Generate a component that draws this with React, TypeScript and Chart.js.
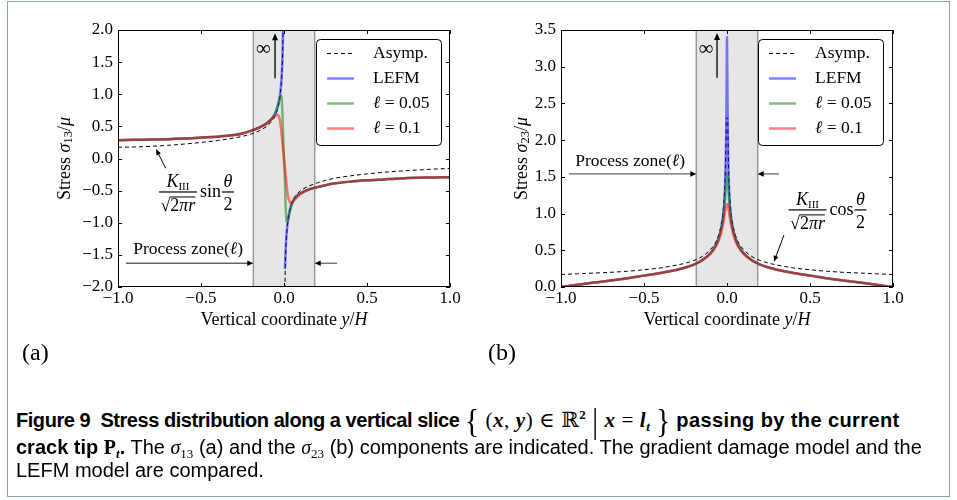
import React, { useEffect, useRef } from 'react';
import { Chart, registerables } from 'chart.js';

Chart.register(...registerables);

const SERIF = '"Liberation Serif", "DejaVu Serif", serif';
const SANS = '"Liberation Sans", Arial, sans-serif';

// ---------- Panel (a): sigma_13 ----------
const coordAsympA = [-1, -0.9, -0.8, -0.7, -0.6, -0.5, -0.4, -0.3, -0.25, -0.2, -0.15, -0.1, -0.07, -0.05, -0.035, -0.025, -0.018, -0.012, -0.008, -0.006, -0.0045, 0, 0.0045, 0.006, 0.008, 0.012, 0.018, 0.025, 0.035, 0.05, 0.07, 0.1, 0.15, 0.2, 0.25, 0.3, 0.4, 0.5, 0.6, 0.7, 0.8, 0.9, 1];
const sigma13Asymp = [0.175, 0.18, 0.19, 0.205, 0.225, 0.25, 0.28, 0.32, 0.345, 0.38, 0.43, 0.51, 0.59, 0.68, 0.8, 0.95, 1.12, 1.37, 1.68, 1.95, 2.25, null, -2.25, -1.95, -1.68, -1.37, -1.12, -0.95, -0.8, -0.67, -0.58, -0.5, -0.43, -0.38, -0.34, -0.31, -0.27, -0.24, -0.215, -0.195, -0.18, -0.165, -0.155];

const coordLefmA = [-1, -0.9, -0.8, -0.7, -0.6, -0.5, -0.4, -0.3, -0.25, -0.2, -0.15, -0.1, -0.07, -0.05, -0.035, -0.025, -0.018, -0.012, -0.008, -0.006, -0.0045, 0, 0.006, 0.008, 0.012, 0.018, 0.025, 0.035, 0.05, 0.07, 0.1, 0.15, 0.2, 0.25, 0.3, 0.4, 0.5, 0.6, 0.7, 0.8, 0.9, 1];
const sigma13Lefm = [0.285, 0.29, 0.295, 0.3, 0.31, 0.325, 0.34, 0.365, 0.39, 0.43, 0.48, 0.555, 0.63, 0.72, 0.84, 0.97, 1.13, 1.38, 1.68, 1.95, 2.25, null, -1.72, -1.55, -1.3, -1.1, -0.95, -0.8, -0.68, -0.6, -0.54, -0.48, -0.445, -0.415, -0.39, -0.36, -0.34, -0.325, -0.31, -0.3, -0.295, -0.29];

const coordL005A = [-1, -0.9, -0.8, -0.7, -0.6, -0.5, -0.4, -0.3, -0.25, -0.2, -0.15, -0.1, -0.07, -0.05, -0.035, -0.025, -0.019, -0.015, -0.012, -0.009, -0.006, -0.003, 0, 0.003, 0.006, 0.009, 0.012, 0.015, 0.019, 0.025, 0.035, 0.05, 0.07, 0.1, 0.15, 0.2, 0.25, 0.3, 0.4, 0.5, 0.6, 0.7, 0.8, 0.9, 1];
const sigma13L005 = [0.285, 0.29, 0.295, 0.3, 0.31, 0.325, 0.34, 0.365, 0.39, 0.43, 0.48, 0.555, 0.63, 0.72, 0.84, 0.94, 0.98, 0.96, 0.86, 0.66, 0.42, 0.2, 0, -0.2, -0.42, -0.66, -0.86, -0.96, -0.98, -0.94, -0.83, -0.69, -0.6, -0.54, -0.48, -0.445, -0.415, -0.39, -0.36, -0.34, -0.325, -0.31, -0.3, -0.295, -0.29];

const coordL01A = [-1, -0.9, -0.8, -0.7, -0.6, -0.5, -0.4, -0.3, -0.25, -0.2, -0.15, -0.1, -0.08, -0.065, -0.05, -0.04, -0.032, -0.025, -0.018, -0.01, 0, 0.01, 0.018, 0.025, 0.032, 0.04, 0.05, 0.065, 0.08, 0.1, 0.15, 0.2, 0.25, 0.3, 0.4, 0.5, 0.6, 0.7, 0.8, 0.9, 1];
const sigma13L01 = [0.285, 0.29, 0.295, 0.3, 0.31, 0.325, 0.34, 0.365, 0.39, 0.43, 0.48, 0.55, 0.6, 0.64, 0.67, 0.68, 0.66, 0.6, 0.47, 0.26, 0, -0.26, -0.47, -0.6, -0.66, -0.69, -0.68, -0.64, -0.6, -0.55, -0.485, -0.445, -0.415, -0.39, -0.36, -0.34, -0.325, -0.31, -0.3, -0.295, -0.29];

// ---------- Panel (b): sigma_23 ----------
const coordAsympB = [-1, -0.9, -0.8, -0.7, -0.6, -0.5, -0.4, -0.3, -0.25, -0.2, -0.15, -0.1, -0.07, -0.05, -0.035, -0.025, -0.018, -0.012, -0.008, -0.006, -0.0045, 0.0045, 0.006, 0.008, 0.012, 0.018, 0.025, 0.035, 0.05, 0.07, 0.1, 0.15, 0.2, 0.25, 0.3, 0.4, 0.5, 0.6, 0.7, 0.8, 0.9, 1];
const sigma23Asymp = [0.17, 0.18, 0.19, 0.2, 0.215, 0.235, 0.26, 0.3, 0.325, 0.36, 0.415, 0.51, 0.6, 0.71, 0.85, 1.0, 1.18, 1.45, 1.78, 2.05, 2.3, 2.3, 2.05, 1.78, 1.45, 1.18, 1.0, 0.85, 0.71, 0.6, 0.51, 0.415, 0.36, 0.325, 0.3, 0.26, 0.235, 0.215, 0.2, 0.19, 0.18, 0.17];

const coordLefmB = [-1, -0.9, -0.8, -0.7, -0.6, -0.5, -0.4, -0.3, -0.25, -0.2, -0.15, -0.1, -0.07, -0.05, -0.035, -0.025, -0.018, -0.012, -0.008, -0.005, -0.003, -0.0015, 0, 0.0015, 0.003, 0.005, 0.008, 0.012, 0.018, 0.025, 0.035, 0.05, 0.07, 0.1, 0.15, 0.2, 0.25, 0.3, 0.4, 0.5, 0.6, 0.7, 0.8, 0.9, 1];
const sigma23Lefm = [0, 0.03, 0.06, 0.09, 0.12, 0.155, 0.19, 0.235, 0.265, 0.305, 0.365, 0.46, 0.56, 0.67, 0.8, 0.94, 1.1, 1.35, 1.65, 2.05, 2.55, 3.0, 3.4, 3.0, 2.55, 2.05, 1.65, 1.35, 1.1, 0.94, 0.8, 0.67, 0.56, 0.46, 0.365, 0.305, 0.265, 0.235, 0.19, 0.155, 0.12, 0.09, 0.06, 0.03, 0];

const coordL005B = [-1, -0.9, -0.8, -0.7, -0.6, -0.5, -0.4, -0.3, -0.25, -0.2, -0.15, -0.1, -0.07, -0.05, -0.035, -0.025, -0.018, -0.012, -0.008, -0.004, 0, 0.004, 0.008, 0.012, 0.018, 0.025, 0.035, 0.05, 0.07, 0.1, 0.15, 0.2, 0.25, 0.3, 0.4, 0.5, 0.6, 0.7, 0.8, 0.9, 1];
const sigma23L005 = [0, 0.03, 0.06, 0.09, 0.12, 0.155, 0.19, 0.235, 0.265, 0.305, 0.365, 0.46, 0.56, 0.67, 0.79, 0.91, 1.04, 1.2, 1.33, 1.48, 1.55, 1.48, 1.33, 1.2, 1.04, 0.91, 0.79, 0.67, 0.56, 0.46, 0.365, 0.305, 0.265, 0.235, 0.19, 0.155, 0.12, 0.09, 0.06, 0.03, 0];

const coordL01B = [-1, -0.9, -0.8, -0.7, -0.6, -0.5, -0.4, -0.3, -0.25, -0.2, -0.15, -0.1, -0.07, -0.05, -0.035, -0.025, -0.018, -0.012, -0.007, -0.003, 0, 0.003, 0.007, 0.012, 0.018, 0.025, 0.035, 0.05, 0.07, 0.1, 0.15, 0.2, 0.25, 0.3, 0.4, 0.5, 0.6, 0.7, 0.8, 0.9, 1];
const sigma23L01 = [0, 0.03, 0.06, 0.09, 0.12, 0.155, 0.19, 0.235, 0.265, 0.305, 0.36, 0.45, 0.54, 0.63, 0.74, 0.84, 0.93, 1.02, 1.08, 1.12, 1.13, 1.12, 1.08, 1.02, 0.93, 0.84, 0.74, 0.63, 0.54, 0.45, 0.36, 0.305, 0.265, 0.235, 0.19, 0.155, 0.12, 0.09, 0.06, 0.03, 0];

// ---------- ticks & labels ----------
const xTicks = [-1, -0.5, 0, 0.5, 1];
const yTicksA = [-2, -1.5, -1, -0.5, 0, 0.5, 1, 1.5, 2];
const yTicksB = [0, 0.5, 1, 1.5, 2, 2.5, 3, 3.5];
const seriesLabels = ['Asymp.', 'LEFM', 'ℓ = 0.05', 'ℓ = 0.1'];
const processZone = [-0.185, 0.185];

const F = (s: number, style = '') => `${style ? style + ' ' : ''}${s}px ${SERIF}`;
const fmt = (v: number) => (v < 0 ? '\u2212' : '') + Math.abs(v).toFixed(1);

type Part = { t: string; f: string; dy?: number };
function richWidth(ctx: CanvasRenderingContext2D, parts: Part[]) {
  let w = 0;
  for (const p of parts) { ctx.font = p.f; w += ctx.measureText(p.t).width; }
  return w;
}
function drawRich(ctx: CanvasRenderingContext2D, parts: Part[], x: number, y: number, align = 'left') {
  const w = richWidth(ctx, parts);
  let cx = align === 'center' ? x - w / 2 : x;
  ctx.textAlign = 'left';
  for (const p of parts) {
    ctx.font = p.f;
    ctx.fillText(p.t, cx, y + (p.dy || 0));
    cx += ctx.measureText(p.t).width;
  }
  return w;
}
function arrow(ctx: CanvasRenderingContext2D, x1: number, y1: number, x2: number, y2: number, lineColor: string, hl = 7, hw = 3.5, lw = 1.2) {
  const ang = Math.atan2(y2 - y1, x2 - x1);
  ctx.strokeStyle = lineColor; ctx.lineWidth = lw;
  ctx.beginPath();
  ctx.moveTo(x1, y1);
  ctx.lineTo(x2 - Math.cos(ang) * hl * 0.8, y2 - Math.sin(ang) * hl * 0.8);
  ctx.stroke();
  ctx.fillStyle = '#000';
  ctx.beginPath();
  ctx.moveTo(x2, y2);
  ctx.lineTo(x2 - Math.cos(ang) * hl - Math.sin(ang) * hw, y2 - Math.sin(ang) * hl + Math.cos(ang) * hw);
  ctx.lineTo(x2 - Math.cos(ang) * hl + Math.sin(ang) * hw, y2 - Math.sin(ang) * hl - Math.cos(ang) * hw);
  ctx.closePath();
  ctx.fill();
}
function roundRect(ctx: CanvasRenderingContext2D, x: number, y: number, w: number, h: number, r: number) {
  ctx.beginPath();
  ctx.moveTo(x + r, y);
  ctx.arcTo(x + w, y, x + w, y + h, r);
  ctx.arcTo(x + w, y + h, x, y + h, r);
  ctx.arcTo(x, y + h, x, y, r);
  ctx.arcTo(x, y, x + w, y, r);
  ctx.closePath();
}

function drawFormula(ctx: CanvasRenderingContext2D, cx: number, cy: number, trig: string) {
  ctx.fillStyle = '#000';
  ctx.textBaseline = 'alphabetic';
  const num: Part[] = [{ t: 'K', f: F(18, 'italic') }, { t: 'III', f: F(11), dy: 3 }];
  const den: Part[] = [{ t: '√', f: F(18) }, { t: '2', f: F(18) }, { t: 'π', f: F(18, 'italic') }, { t: 'r', f: F(18, 'italic') }];
  const wn = richWidth(ctx, num);
  const wd = richWidth(ctx, den);
  const bw = Math.max(wn, wd) + 3;
  drawRich(ctx, num, cx, cy - 5, 'center');
  ctx.fillRect(cx - bw / 2, cy - 0.6, bw, 1.2);
  const x0 = cx - wd / 2;
  drawRich(ctx, den, cx, cy + 19, 'center');
  ctx.font = F(18);
  const wr = ctx.measureText('√').width;
  ctx.fillRect(x0 + wr - 0.5, cy + 4.5, wd - wr + 0.5, 1);
  ctx.font = F(18);
  const tx = cx + bw / 2 + 3;
  ctx.fillText(trig, tx, cy + 5.5);
  const tw = ctx.measureText(trig).width;
  const fc = tx + tw + 7;
  ctx.font = F(18, 'italic');
  ctx.textAlign = 'center';
  ctx.fillText('θ', fc, cy - 5);
  ctx.fillRect(fc - 6, cy - 0.6, 12, 1.2);
  ctx.font = F(18);
  ctx.fillText('2', fc, cy + 18);
}

const labelParts = (s: string, size: number): Part[] =>
  s.startsWith('ℓ') ? [{ t: 'ℓ', f: F(size, 'italic') }, { t: s.slice(1), f: F(size) }] : [{ t: s, f: F(size) }];

const figurePlugin = {
  id: 'figure',
  beforeDatasetsDraw(chart: any, _a: any, o: any) {
    const { ctx, chartArea: a } = chart;
    const sx = chart.scales.x;
    const x0 = sx.getPixelForValue(o.band[0]);
    const x1 = sx.getPixelForValue(o.band[1]);
    ctx.save();
    ctx.fillStyle = '#e6e6e6';
    ctx.fillRect(x0, a.top, x1 - x0, a.bottom - a.top);
    ctx.strokeStyle = '#999999';
    ctx.lineWidth = 1.5;
    ctx.beginPath();
    ctx.moveTo(x0, a.top); ctx.lineTo(x0, a.bottom);
    ctx.moveTo(x1, a.top); ctx.lineTo(x1, a.bottom);
    ctx.stroke();
    ctx.restore();
  },
  afterDatasetsDraw(chart: any, _a: any, o: any) {
    const { ctx, chartArea: a } = chart;
    const sx = chart.scales.x, sy = chart.scales.y;
    const px = (v: number) => sx.getPixelForValue(v);
    const py = (v: number) => sy.getPixelForValue(v);
    ctx.save();
    // frame
    ctx.strokeStyle = '#000';
    ctx.lineWidth = 1;
    ctx.strokeRect(a.left + 0.5, a.top + 0.5, a.right - a.left - 1, a.bottom - a.top - 1);
    // inward ticks on all sides
    ctx.beginPath();
    for (const t of sx.ticks) {
      const x = Math.round(px(t.value)) + 0.5;
      ctx.moveTo(x, a.bottom); ctx.lineTo(x, a.bottom - 4);
      ctx.moveTo(x, a.top); ctx.lineTo(x, a.top + 4);
    }
    for (const t of sy.ticks) {
      const y = Math.round(py(t.value)) + 0.5;
      ctx.moveTo(a.left, y); ctx.lineTo(a.left + 4, y);
      ctx.moveTo(a.right, y); ctx.lineTo(a.right - 4, y);
    }
    ctx.stroke();
    // tick labels
    ctx.fillStyle = '#000';
    ctx.font = F(17);
    ctx.textAlign = 'center';
    ctx.textBaseline = 'top';
    for (const t of sx.ticks) ctx.fillText(fmt(t.value), px(t.value), a.bottom + 3);
    ctx.textAlign = 'right';
    ctx.textBaseline = 'middle';
    for (const t of sy.ticks) ctx.fillText(fmt(t.value), a.left - 5, py(t.value));
    // axis titles
    ctx.textBaseline = 'middle';
    drawRich(ctx, [
      { t: 'Vertical coordinate ', f: F(18) }, { t: 'y', f: F(18, 'italic') }, { t: '/', f: F(18) }, { t: 'H', f: F(18, 'italic') },
    ], (a.left + a.right) / 2, a.bottom + 33, 'center');
    ctx.save();
    ctx.translate(a.left - o.yTitleOffset, (a.top + a.bottom) / 2);
    ctx.rotate(-Math.PI / 2);
    drawRich(ctx, [
      { t: 'Stress ', f: F(18) }, { t: 'σ', f: F(18, 'italic') }, { t: o.sub, f: F(12.5), dy: 4 }, { t: '/', f: F(18) }, { t: 'μ', f: F(18, 'italic') },
    ], 0, 0, 'center');
    ctx.restore();
    // infinity arrow
    ctx.font = F(21);
    ctx.textAlign = 'center';
    ctx.textBaseline = 'middle';
    ctx.fillStyle = '#000';
    ctx.fillText('∞', px(o.inf.tx), py(o.inf.ty));
    arrow(ctx, px(o.inf.ax), py(o.inf.y0), px(o.inf.ax), py(o.inf.y1), '#000', 7, 3, 1.3);
    // process zone
    ctx.fillStyle = '#000';
    ctx.textBaseline = 'middle';
    drawRich(ctx, [{ t: 'Process zone(', f: F(17.5) }, { t: 'ℓ', f: F(17.5, 'italic') }, { t: ')', f: F(17.5) }], px(o.pz.tx), py(o.pz.ty), 'center');
    arrow(ctx, px(o.pz.l0), py(o.pz.ay), px(o.band[0]), py(o.pz.ay), '#666', 6, 2.8, 1.3);
    arrow(ctx, px(o.pz.r0), py(o.pz.ay), px(o.band[1]), py(o.pz.ay), '#666', 6, 2.8, 1.3);
    // formula
    drawFormula(ctx, px(o.fm.x), py(o.fm.y), o.fm.trig);
    arrow(ctx, px(o.fm.a0[0]), py(o.fm.a0[1]), px(o.fm.a1[0]), py(o.fm.a1[1]), '#000', 6, 2.5, 1);
    // legend
    const lx = a.right - o.legend.dx, ly = a.top + 9, lw = 125, lh = 106;
    ctx.fillStyle = '#fff';
    ctx.strokeStyle = '#000';
    ctx.lineWidth = 1;
    roundRect(ctx, lx + 0.5, ly + 0.5, lw, lh, 4);
    ctx.fill();
    ctx.stroke();
    chart.data.datasets.forEach((ds: any, i: number) => {
      const yy = ly + 14.5 + i * 25;
      ctx.save();
      ctx.strokeStyle = ds.borderColor;
      ctx.lineWidth = ds.borderWidth;
      ctx.setLineDash(ds.borderDash || []);
      ctx.beginPath();
      ctx.moveTo(lx + 11, yy); ctx.lineTo(lx + 38, yy);
      ctx.stroke();
      ctx.restore();
      ctx.fillStyle = '#000';
      ctx.textBaseline = 'middle';
      drawRich(ctx, labelParts(ds.label, 17.5), lx + 57, yy, 'left');
    });
    ctx.restore();
  },
};

const pts = (xs: number[], ys: (number | null)[]) => xs.map((x, i) => ({ x, y: ys[i] }));

function makeConfig(p: any): any {
  return {
    type: 'line',
    data: {
      datasets: [
        { label: seriesLabels[0], data: pts(p.asx, p.asy), borderColor: '#000', borderWidth: 1, borderDash: [4, 3], order: 4 },
        { label: seriesLabels[1], data: pts(p.lfx, p.lfy), borderColor: 'rgba(0,0,255,0.5)', borderWidth: 2.5, order: 3 },
        { label: seriesLabels[2], data: pts(p.g5x, p.g5y), borderColor: 'rgba(0,128,0,0.5)', borderWidth: 2.5, order: 2 },
        { label: seriesLabels[3], data: pts(p.g1x, p.g1y), borderColor: 'rgba(255,0,0,0.5)', borderWidth: 2.5, order: 1 },
      ],
    },
    options: {
      animation: false,
      responsive: false,
      spanGaps: false,
      layout: { padding: { left: 0, top: 30, right: p.padRight, bottom: 0 } },
      elements: { point: { radius: 0 }, line: { cubicInterpolationMode: 'monotone', fill: false } },
      scales: {
        x: {
          type: 'linear', min: -1, max: 1,
          grid: { display: false }, border: { display: false }, ticks: { display: false },
          afterBuildTicks: (s: any) => { s.ticks = xTicks.map((v) => ({ value: v })); },
          afterFit: (s: any) => { s.height = 53; },
        },
        y: {
          type: 'linear', min: p.yMin, max: p.yMax,
          grid: { display: false }, border: { display: false }, ticks: { display: false },
          afterBuildTicks: (s: any) => { s.ticks = p.yTicks.map((v: number) => ({ value: v })); },
          afterFit: (s: any) => { s.width = p.yWidth; },
        },
      },
      plugins: { legend: { display: false }, tooltip: { enabled: false }, figure: p.deco },
    },
    plugins: [figurePlugin],
  };
}

const panelA = {
  asx: coordAsympA, asy: sigma13Asymp, lfx: coordLefmA, lfy: sigma13Lefm,
  g5x: coordL005A, g5y: sigma13L005, g1x: coordL01A, g1y: sigma13L01,
  yMin: -2, yMax: 2, yTicks: yTicksA, yWidth: 118, padRight: 30,
  deco: {
    band: processZone, sub: '13', yTitleOffset: 53,
    inf: { tx: -0.125, ty: 1.69, ax: -0.054, y0: 1.25, y1: 1.95 },
    pz: { tx: -0.578, ty: -1.42, ay: -1.63, l0: -0.952, r0: 0.32 },
    fm: { x: -0.639, y: -0.521, trig: 'sin', a0: [-0.713, -0.152], a1: [-0.771, 0.148] },
    legend: { dx: 134 },
  },
};

const panelB = {
  asx: coordAsympB, asy: sigma23Asymp, lfx: coordLefmB, lfy: sigma23Lefm,
  g5x: coordL005B, g5y: sigma23L005, g1x: coordL01B, g1y: sigma23L01,
  yMin: 0, yMax: 3.5, yTicks: yTicksB, yWidth: 81, padRight: 64,
  deco: {
    band: processZone, sub: '23', yTitleOffset: 39,
    inf: { tx: -0.127, ty: 3.23, ax: -0.06, y0: 2.85, y1: 3.46 },
    pz: { tx: -0.584, ty: 1.716, ay: 1.54, l0: -0.952, r0: 0.313 },
    fm: { x: 0.485, y: 1.05, trig: 'cos', a0: [0.343, 0.708], a1: [0.283, 0.345] },
    legend: { dx: 135 },
  },
};

function Panel({ left, width, height, spec }: any) {
  const ref = useRef<HTMLCanvasElement>(null);
  useEffect(() => {
    const chart = new Chart(ref.current as HTMLCanvasElement, makeConfig(spec));
    return () => chart.destroy();
  }, []);
  return (
    <canvas ref={ref} width={width} height={height}
      style={{ position: 'absolute', left, top: 0, width, height, display: 'block' }} />
  );
}

const capBase: React.CSSProperties = {
  position: 'absolute', left: 16, fontFamily: SANS, fontSize: 20, whiteSpace: 'nowrap', color: '#000', lineHeight: '24px',
};
const mathS: React.CSSProperties = { fontFamily: SERIF, fontStyle: 'italic', fontWeight: 'bold', fontSize: 21, letterSpacing: '0.6px' };
const up: React.CSSProperties = { fontFamily: SERIF, fontStyle: 'normal', fontWeight: 'normal' };
const brace: React.CSSProperties = { fontFamily: SERIF, fontWeight: 'normal', fontStyle: 'normal', fontSize: 29, display: 'inline-block', transform: 'scaleY(1.15)', verticalAlign: '-3px', lineHeight: '24px' };
const sub: React.CSSProperties = { fontFamily: SERIF, fontSize: 13, verticalAlign: '-4px', lineHeight: 0 };

export default function App() {
  return (
    <div style={{ position: 'absolute', left: 0, top: 0, width: 957, height: 500, background: '#fff' }}>
      <div style={{ position: 'absolute', left: 7, top: 1, width: 943, height: 496, border: '1px solid #8a9dbd', boxSizing: 'border-box' }} />
      <Panel left={0} width={480} height={340} spec={panelA} />
      <Panel left={480} width={477} height={340} spec={panelB} />
      <div style={{ position: 'absolute', left: 22, top: 338, fontFamily: SERIF, fontSize: 24, lineHeight: '28px' }}>(a)</div>
      <div style={{ position: 'absolute', left: 488, top: 338, fontFamily: SERIF, fontSize: 24, lineHeight: '28px' }}>(b)</div>
      <div style={{ ...capBase, top: 408, fontWeight: 'bold' }}>
        <span style={{ letterSpacing: '-0.45px' }}>Figure 9&nbsp; Stress distribution along a vertical slice</span>{' '}
        <span style={mathS}>
          <span style={brace}>{'{'}</span>{' '}
          <span style={up}>(</span>x<span style={up}>,</span> y<span style={up}>)</span>{' '}
          <span style={up}>∈ ℝ<sup style={{ fontSize: 13, fontWeight: 'bold', verticalAlign: '8px', lineHeight: 0 }}>2</sup></span>{' '}
          <span style={{ ...brace, transform: 'scaleY(1.25)' }}>|</span>{' '}
          x <span style={up}>=</span> l<sub style={{ fontSize: 13, verticalAlign: '-4px', lineHeight: 0 }}>t</sub>{' '}
          <span style={brace}>{'}'}</span>
        </span>{' '}
        <span style={{ letterSpacing: '0.4px' }}>passing by the current</span>
      </div>
      <div style={{ ...capBase, top: 435 }}>
        <b>crack tip <span style={{ fontFamily: SERIF }}>P<sub style={{ ...sub, fontStyle: 'italic', fontWeight: 'bold' }}>t</sub></span>.</b>{' '}
        The <span style={{ fontFamily: SERIF, fontStyle: 'italic' }}>σ</span><sub style={sub}>13</sub> (a) and the{' '}
        <span style={{ fontFamily: SERIF, fontStyle: 'italic' }}>σ</span><sub style={sub}>23</sub> (b) components are indicated. The gradient damage model and the
      </div>
      <div style={{ ...capBase, top: 458 }}>LEFM model are compared.</div>
    </div>
  );
}
